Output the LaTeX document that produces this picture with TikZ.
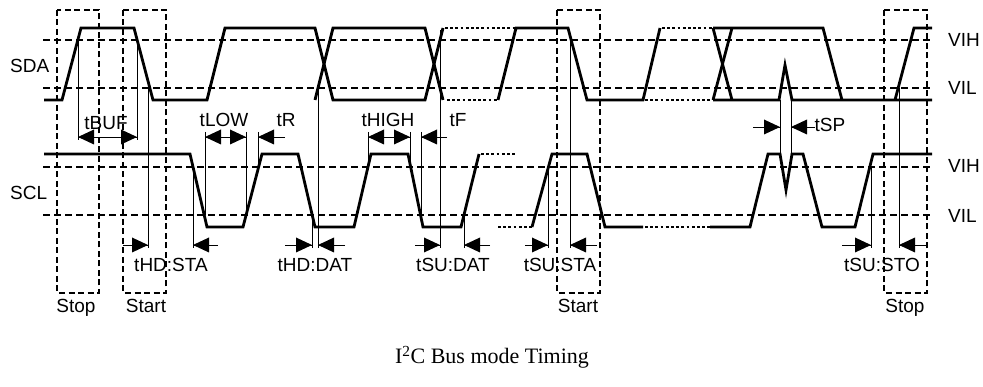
\documentclass[tikz,border=0pt]{standalone}
\usepackage{fontspec}
\setmainfont{Liberation Sans}
\newfontfamily\titlefont{Liberation Serif}
\begin{document}
\begin{tikzpicture}[x=1pt,y=-1pt,
  wave/.style={line width=2.8pt, line join=miter},
  dotw/.style={line width=2.8pt, dash pattern=on 2.8pt off 2.4pt},
  thr/.style={line width=1.1pt, dash pattern=on 7pt off 4pt},
  dbox/.style={line width=1.8pt, dash pattern=on 6pt off 3.5pt},
  mline/.style={line width=0.9pt},
  rtip/.pic={\fill (0,0) -- (-16,-7.5) -- (-16,7.5) -- cycle;},
  ltip/.pic={\fill (0,0) -- (16,-7.5) -- (16,7.5) -- cycle;},
  lbl/.style={font=\fontsize{19}{22}\selectfont, inner sep=0pt, anchor=base},
]
\useasboundingbox (0,0) rectangle (983,387);
% thresholds
\draw[thr] (43,40) -- (930,40);
\draw[thr] (43,88) -- (930,88);
\draw[thr] (43,167) -- (930,167);
\draw[thr] (43,215) -- (930,215);
% SDA
\draw[wave] (44,100)--(62,100)--(81,28)--(134,28)--(153,100)--(207,100)--(225,28)--(315,28)--(333,100)--(425,100)--(443,28);
\draw[wave] (315,100)--(333,28)--(425,28)--(443,100);
\draw[dotw] (445,28)--(516,28);
\draw[dotw] (447,100)--(498,100);
\draw[wave] (498,100)--(516,28)--(568,28)--(587,100)--(643,100)--(660,28);
\draw[dotw] (662,28)--(713,28);
\draw[dotw] (645,100)--(713,100);
\draw[wave] (713,28)--(732,100);
\draw[wave] (713,100)--(732,28);
\draw[wave] (713,28)--(823,28)--(842,100);
\draw[wave] (713,100)--(779,100)--(785,65)--(792,100)--(932,100);
\draw[wave] (895,100)--(914,28)--(932,28);
% SCL
\draw[wave] (44,154)--(190,154)--(207,227)--(243,227)--(262,154)--(298,154)--(315,227)--(354,227)--(371,154)--(408,154)--(423,227)--(461,227)--(479,154);
\draw[dotw] (481,154)--(516,154);
\draw[dotw] (498,227)--(532,227);
\draw[wave] (532,227)--(552,154)--(587,154)--(605,227)--(643,227);
\draw[dotw] (645,227)--(710,227);
\draw[wave] (710,227)--(750,227)--(768,154)--(780,154)--(786,190)--(792,154)--(803,154)--(822,227)--(855,227)--(873,154)--(932,154);
% boxes
\draw[dbox] (57,10) rectangle (99,293);
\draw[dbox] (123,10) rectangle (166,293);
\draw[dbox] (557,10) rectangle (600,293);
\draw[dbox] (884,10) rectangle (927,293);
% tBUF
\draw[mline] (78,40)--(78,140);
\draw[mline] (137,40)--(137,140);
\draw[mline] (78,137)--(137,137);
\pic at (78,137) {ltip}; \pic at (137,137) {rtip};
% tLOW, tR
\draw[mline] (205,132)--(205,215);
\draw[mline] (246,132)--(246,215);
\draw[mline] (205,137)--(246,137);
\pic at (205,137) {ltip}; \pic at (246,137) {rtip};
\draw[mline] (258,132)--(258,167);
\draw[mline] (285,137)--(258,137);
\pic at (258,137) {ltip};
% tHIGH, tF
\draw[mline] (368,132)--(368,167);
\draw[mline] (410,132)--(410,167);
\draw[mline] (368,137)--(410,137);
\pic at (368,137) {ltip}; \pic at (410,137) {rtip};
\draw[mline] (421,132)--(421,215);
\draw[mline] (447,137)--(421,137);
\pic at (421,137) {ltip};
% tHD:STA
\draw[mline] (148,88)--(148,248);
\draw[mline] (193,167)--(193,248);
\draw[mline] (123,245)--(148,245); \pic at (148,245) {rtip};
\draw[mline] (218,245)--(193,245); \pic at (193,245) {ltip};
% tHD:DAT
\draw[mline] (312,215)--(312,248);
\draw[mline] (318,88)--(318,248);
\draw[mline] (285,245)--(312,245); \pic at (312,245) {rtip};
\draw[mline] (345,245)--(318,245); \pic at (318,245) {ltip};
% tSU:DAT
\draw[mline] (440,30)--(440,248);
\draw[mline] (464,215)--(464,248);
\draw[mline] (415,245)--(440,245); \pic at (440,245) {rtip};
\draw[mline] (490,245)--(464,245); \pic at (464,245) {ltip};
% tSU:STA
\draw[mline] (548,167)--(548,248);
\draw[mline] (570,40)--(570,248);
\draw[mline] (525,245)--(548,245); \pic at (548,245) {rtip};
\draw[mline] (597,245)--(570,245); \pic at (570,245) {ltip};
% tSP
\draw[mline] (780,100)--(780,154);
\draw[mline] (791,100)--(791,154);
\draw[mline] (753,127)--(780,127); \pic at (780,127) {rtip};
\draw[mline] (815,127)--(791,127); \pic at (791,127) {ltip};
% tSU:STO
\draw[mline] (871,167)--(871,248);
\draw[mline] (899,88)--(899,248);
\draw[mline] (842,245)--(871,245); \pic at (871,245) {rtip};
\draw[mline] (927,245)--(899,245); \pic at (899,245) {ltip};
% labels
\node[lbl, anchor=base west] (sda) at (10,73) {SDA};
\node[lbl, anchor=base west] (scl) at (10,200) {SCL};
\node[lbl, anchor=base west] (vih1) at (948,47) {VIH};
\node[lbl, anchor=base west] (vil1) at (948,95) {VIL};
\node[lbl, anchor=base west] (vih2) at (948,173) {VIH};
\node[lbl, anchor=base west] (vil2) at (948,223) {VIL};
\node[lbl] (tbuf) at (106,130) {tBUF};
\node[lbl] (tlow) at (224,127) {tLOW};
\node[lbl] (tr) at (286,127) {tR};
\node[lbl] (thigh) at (388,127) {tHIGH};
\node[lbl] (tf) at (458,127) {tF};
\node[lbl] (tsp) at (830,132) {tSP};
\node[lbl] (thdsta) at (171,272) {tHD:STA};
\node[lbl] (thddat) at (315,272) {tHD:DAT};
\node[lbl] (tsudat) at (453,272) {tSU:DAT};
\node[lbl] (tsusta) at (560,272) {tSU:STA};
\node[lbl] (tsusto) at (882,272) {tSU:STO};
\node[lbl] (stop1) at (76,313) {Stop};
\node[lbl] (start1) at (146,313) {Start};
\node[lbl] (start2) at (578,313) {Start};
\node[lbl] (stop2) at (905,313) {Stop};
\node[inner sep=0pt, anchor=base, font=\titlefont\fontsize{22}{26}\selectfont] (title) at (492,364) {I\textsuperscript{2}C Bus mode Timing};
\end{tikzpicture}
\end{document}
